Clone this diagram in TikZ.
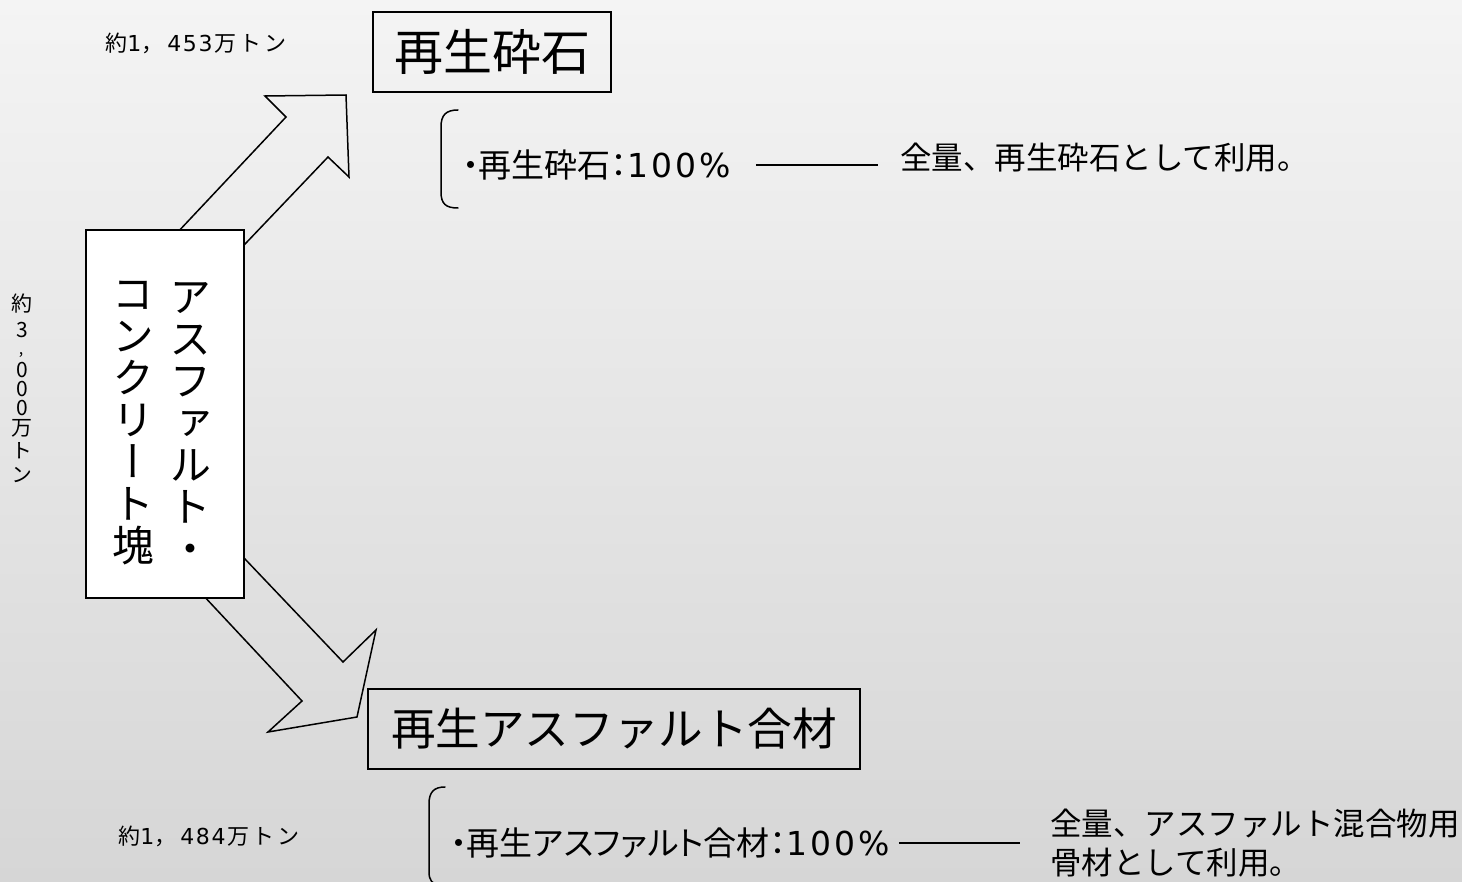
\documentclass[tikz,border=0pt]{standalone}
\usepackage{fontspec}
\newfontfamily\cjk{Noto Sans CJK JP}
\newfontfamily\cjkp[RawFeature=+palt]{Noto Sans CJK JP}
\newfontfamily\cjkv[RawFeature=+vert]{Noto Sans CJK JP}
\newfontfamily\digf{DejaVu Sans}
\definecolor{bgtop}{RGB}{244,244,244}
\definecolor{bgbot}{RGB}{214,214,214}
\newcommand{\pct}{{\digf 1\kern1.6pt 0\kern1.6pt 0\kern1.6pt\%}}
\tikzset{
  txt/.style={inner sep=0pt, anchor=west, text=black},
  titlebox/.style={draw=black, line width=0.75pt, inner sep=0pt, font=\cjk},
  outline/.style={draw=black, line width=0.75pt, line join=miter},
  brace/.style={draw=black, line width=0.75pt, line cap=round},
  conn/.style={draw=black, line width=0.75pt},
  vglyph/.style={inner sep=0pt, font=\cjkv\fontsize{10.5}{10.5}\selectfont},
  amount/.style={txt, font=\cjk\fontsize{11}{11}\selectfont},
  bullet/.style={txt, font=\cjkp\fontsize{16.5}{16.5}\selectfont},
  result/.style={txt, align=left, font=\cjk\fontsize{15.75}{19.5}\selectfont},
}
\begin{document}
\begin{tikzpicture}[x=0.5pt,y=-0.5pt]
\useasboundingbox (0,0) rectangle (1462,882);
\clip (0,0) rectangle (1462,882);
\shade[top color=bgtop,bottom color=bgbot] (0,0) rectangle (1462,882);

% arrows (outlines, tails hidden behind the box)
\draw[outline] (160,251) -- (286,117) -- (265,96) -- (346,95) -- (349,177) -- (328,157) -- (226,264) -- cycle;
\draw[outline] (225,538) -- (343,662) -- (376,630) -- (357,717) -- (268,732) -- (302,701) -- (187,578) -- cycle;

% left block
\node[draw=black, fill=white, line width=0.75pt, minimum width=79pt, minimum height=184pt, inner sep=0pt] (lb) at (165,414) {};
\node[inner sep=0pt, align=center, font=\cjkv\fontsize{21}{21}\selectfont] (colA) at (190,423) {ア\\ス\\フ\\ァ\\ル\\ト\\・};
\node[inner sep=0pt, align=center, font=\cjkv\fontsize{21}{21}\selectfont] (colB) at (133,423) {コ\\ン\\ク\\リ\\ー\\ト\\塊};

% left vertical amount
\foreach \c/\yy [count=\i] in {約/304, 3/330, 0/370, 0/389, 0/408, 万/428, ト/451, ン/475}
  \node[vglyph] (v\i) at (22,\yy) {\c};
\node[inner sep=0pt, font=\cjk\fontsize{8}{8}\selectfont] (vcomma) at (21,355) {,};

% top branch
\node[amount] (t1) at (105,43) {約{\digf 1}，\kern2pt{\digf 4\kern0.8pt 5\kern0.8pt 3}\kern1pt 万\kern1.5pt ト\kern1.5pt ン};
\node[titlebox, minimum width=119pt, minimum height=40pt, font=\cjk\fontsize{24.5}{24.5}\selectfont] (box1) at (492,52) {再生砕石};
\draw[brace] (458,110) .. controls (446,110) and (441,115) .. (441,127) -- (441,192) .. controls (441,204) and (446,208) .. (458,208);
\node[bullet] (b1) at (462,165) {・再生砕石：\pct};
\node[result] (r1) at (900,158) {全量、再生砕石として利用。};
\draw[conn, shorten <=12pt, shorten >=11pt] (b1.east) -- (b1.east -| r1.west);

% bottom branch
\node[titlebox, minimum width=246pt, minimum height=40pt, font=\cjk\fontsize{22.3}{22.3}\selectfont] (box2) at (614,729) {再生アスファルト合材};
\node[amount] (t2) at (118,836) {約{\digf 1}，\kern2pt{\digf 4\kern0.8pt 8\kern0.8pt 4}\kern1pt 万\kern1.5pt ト\kern1.5pt ン};
\draw[brace] (445,787) .. controls (434,787) and (429,792) .. (429,804) -- (429,872) .. controls (429,880) and (432,884) .. (440,886);
\node[bullet] (b2) at (450,843) {・再生アスファルト合材：\pct};
\node[result] (r2) at (1050,843) {全量、アスファルト混合物用\\骨材として利用。};
\draw[conn, shorten <=4pt, shorten >=15pt] (b2.east) -- (b2.east -| r2.west);
\end{tikzpicture}
\end{document}
